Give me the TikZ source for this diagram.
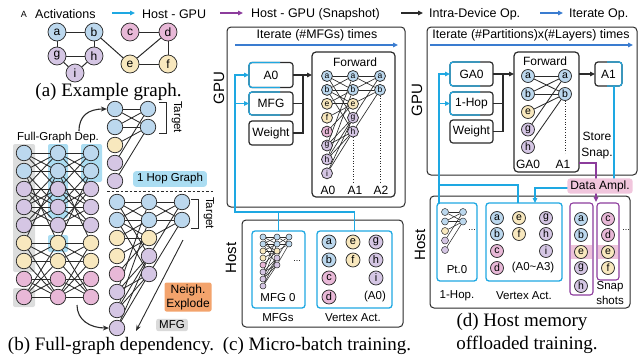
\documentclass[tikz,border=0pt]{standalone}
\usepackage{fontspec}
\setmainfont{Liberation Sans}
\newfontfamily\capfont{Liberation Serif}
\usetikzlibrary{arrows.meta,calc}
\definecolor{cblue}{HTML}{BCD8EE}
\definecolor{cpurp}{HTML}{D5C6E4}
\definecolor{cyel}{HTML}{F8E8BE}
\definecolor{cpink}{HTML}{E8B8D7}
\definecolor{hgc}{HTML}{1EA8E2}
\definecolor{itc}{HTML}{3A7CD0}
\definecolor{snc}{HTML}{8C3C9C}
\definecolor{dkc}{HTML}{2A2A2A}
\definecolor{grayhl}{HTML}{DCDDDD}
\definecolor{cyanhl}{HTML}{ABDDF2}
\definecolor{orangec}{HTML}{F3A36C}
\definecolor{mfggray}{HTML}{DADADA}
\definecolor{amplc}{HTML}{F1C6DD}
\definecolor{snaphl}{HTML}{EDC3DA}
\pgfdeclarelayer{hl}
\pgfdeclarelayer{edges}
\pgfsetlayers{hl,edges,main}
\newcommand\fsz[2]{\fontsize{#1}{#2}\selectfont}
\tikzset{
  vn/.style={circle,draw=dkc,line width=0.75pt,inner sep=0pt,minimum size=#1},
  vn/.default=15.5pt,
  clr a/.style={fill=cblue}, clr b/.style={fill=cblue},
  clr c/.style={fill=cpink}, clr d/.style={fill=cpink},
  clr e/.style={fill=cyel}, clr f/.style={fill=cyel},
  clr g/.style={fill=cpurp}, clr h/.style={fill=cpurp}, clr i/.style={fill=cpurp},
  eg/.style={draw=dkc,line width=0.85pt},
  pbox/.style={draw=dkc,line width=1pt,rounded corners=4pt},
  iobox/.style={draw=dkc,line width=1.2pt,rounded corners=3pt,outer sep=0pt,inner sep=0pt,minimum width=44pt,font=\fsz{12}{14}},
  hg/.style={draw=hgc,line width=1.4pt},
  dk/.style={draw=dkc,line width=1.2pt},
  arr/.style={-{Triangle[length=5pt,width=4.5pt]}},
  lbl/.style={font=\fsz{12}{14},inner sep=0pt},
  leg/.style={font=\fsz{12.5}{14},inner sep=0pt,anchor=west},
  capt/.style={font=\capfont\fsz{19}{22},inner sep=0pt},
  sidelbl/.style={font=\fsz{15}{16},inner sep=0pt,rotate=90},
  tgt/.style={font=\fsz{11.5}{13},inner sep=0pt,rotate=-90},
  dotl/.style={draw=dkc,line width=0.8pt,dash pattern=on 1pt off 1.6pt},
}
\newcommand\cyanleft[1]{%
  \begin{scope}\clip ($(#1.south west)+(-2,2)$) rectangle ($(#1.north east)+(-13,-2)$);
  \draw[hg,line width=1.2pt,rounded corners=3pt] (#1.south west) rectangle (#1.north east);\end{scope}}
\newcommand\cyanright[1]{%
  \begin{scope}\clip ($(#1.south west)+(12,2)$) rectangle ($(#1.north east)+(2,-2)$);
  \draw[hg,line width=1.2pt,rounded corners=3pt] (#1.south west) rectangle (#1.north east);\end{scope}}
\begin{document}
\begin{tikzpicture}[x=1pt,y=-1pt]
\useasboundingbox (0,0) rectangle (644,357);
% ================= legend =================
\node[lbl,font=\fsz{9}{10}] (lgA) at (24,14) {A};
\node[leg] (lgAct) at (35,14) {Activations};
\coordinate (lc1) at (112,13); \coordinate (lc2) at (135,13);
\draw[hg,arr] (lc1) -- (lc2);
\node[leg] (lgHG) at (142,14) {Host - GPU};
\coordinate (lp1) at (220,13); \coordinate (lp2) at (243,13);
\draw[draw=snc,line width=1.4pt,arr] (lp1) -- (lp2);
\node[leg] (lgHS) at (251,14) {Host - GPU (Snapshot)};
\coordinate (lk1) at (401,13); \coordinate (lk2) at (423,13);
\draw[dk,arr] (lk1) -- (lk2);
\node[leg] (lgID) at (429,14) {Intra-Device Op.};
\coordinate (lb1) at (540,13); \coordinate (lb2) at (563,13);
\draw[draw=itc,line width=1.4pt,arr] (lb1) -- (lb2);
\node[leg] (lgIt) at (569,14) {Iterate Op.};
% ================= (a) =================
\foreach \n/\x/\y in {a/57/32,b/94/32,g/57/56,h/94/56,i/75/73,c/130/32,d/168/32,e/130/64,f/168/64}
  \node[vn=18pt,clr \n,font=\fsz{12}{12}] (pa-\n) at (\x,\y) {\n};
\begin{pgfonlayer}{edges}
\foreach \u/\v in {a/b,a/g,b/h,g/h,g/i,h/i,b/e,c/d,e/d,e/f,d/f}
  \draw[eg,line width=1pt] (pa-\u) -- (pa-\v);
\end{pgfonlayer}
\node[capt] (capa) at (108.5,92) {(a) Example graph.};
% ================= (b) left network =================
\foreach \c/\x in {1/24,2/58,3/91}
  \foreach \r/\l in {1/a,2/b,3/g,4/h,5/i,6/e,7/f,8/c,9/d}
    \node[vn,clr \l] (L\c-\r) at (\x,{153+18*(\r-1)}) {};
\begin{pgfonlayer}{edges}
\foreach \p/\q in {1/2,2/3}
  \foreach \i/\j in {1/1,2/2,3/3,4/4,5/5,6/6,7/7,8/8,9/9,1/2,2/1,1/3,3/1,2/4,4/2,2/6,6/2,3/4,4/3,3/5,5/3,4/5,5/4,6/7,7/6,6/9,9/6,7/9,9/7,8/9,9/8}
    \draw[eg] (L\p-\i) -- (L\q-\j);
\end{pgfonlayer}
\begin{pgfonlayer}{hl}
\fill[grayhl,rounded corners=2pt] (13,144) rectangle (35,272);
\fill[grayhl,rounded corners=2pt] (13,288) rectangle (35,307);
\fill[cyanhl,rounded corners=2pt] (48,144) rectangle (68,218);
\fill[cyanhl,rounded corners=2pt] (48,235) rectangle (68,252);
\fill[cyanhl,rounded corners=2pt] (81,144) rectangle (102,182);
\end{pgfonlayer}
\node[lbl,font=\fsz{11.5}{13}] (fgd) at (58,138) {Full-Graph Dep.};
% ================= (b) top 1-hop graph =================
\foreach \r/\l/\y in {1/a/109,2/b/127,3/e/145,4/g/163,5/h/181}
  \node[vn,clr \l] (T1-\r) at (115,\y) {};
\foreach \r/\l/\y in {1/a/109,2/b/127}
  \node[vn,clr \l] (T2-\r) at (148,\y) {};
\begin{pgfonlayer}{edges}
\foreach \i/\j in {1/1,2/1,4/1,1/2,2/2,3/2,5/2}
  \draw[eg] (T1-\i) -- (T2-\j);
\end{pgfonlayer}
\draw[dkc,line width=0.9pt] (159,102) -- (166,102) -- (166,133) -- (159,133);
\node[tgt] (tgt1) at (177,117) {Target};
\node[lbl,font=\fsz{11.5}{13},fill=cyanhl,rounded corners=3pt,inner xsep=4pt,inner ysep=2.5pt] (ohg) at (170,179) {1 Hop Graph};
\coordinate (ds1) at (107,191); \coordinate (ds2) at (213,191);
\draw[dkc,line width=0.9pt,dash pattern=on 2.5pt off 2pt] (ds1) -- (ds2);
% ================= (b) bottom MFG =================
\foreach \r/\l in {1/a,2/b,3/e,4/f,5/d,6/g,7/h,8/i}
  \node[vn,clr \l] (B1-\r) at (117,{202+18*(\r-1)}) {};
\foreach \r/\l in {1/a,2/b,3/e,4/g,5/h}
  \node[vn,clr \l] (B2-\r) at (149,{202+18*(\r-1)}) {};
\foreach \r/\l in {1/a,2/b}
  \node[vn,clr \l] (B3-\r) at (182,{202+18*(\r-1)}) {};
\begin{pgfonlayer}{edges}
\foreach \i/\j in {1/1,2/1,6/1,1/2,2/2,3/2,7/2,2/3,3/3,4/3,5/3,1/4,6/4,7/4,8/4,2/5,6/5,7/5,8/5}
  \draw[eg] (B1-\i) -- (B2-\j);
\foreach \i/\j in {1/1,2/1,4/1,1/2,2/2,3/2,5/2}
  \draw[eg] (B2-\i) -- (B3-\j);
\end{pgfonlayer}
\draw[dkc,line width=0.9pt] (191,199) -- (198,199) -- (198,228) -- (191,228);
\node[tgt] (tgt2) at (209,213) {Target};
% curved arrows
\coordinate (cu0) at (79,131);
\draw[dkc,line width=1.1pt,-{Stealth[length=6pt,width=5pt]}] (cu0) .. controls (79,116) and (88,109) .. (T1-1.west);
\coordinate (cd0) at (77,305);
\draw[dkc,line width=1.1pt,-{Stealth[length=6pt,width=5pt]}] (cd0) .. controls (77,320) and (90,328) .. (B1-8.west);
\coordinate (ex1) at (183,240); \coordinate (ex2) at (136,331);
\draw[dkc,line width=0.9pt,-{Stealth[length=6pt,width=4.5pt]}] (ex1) -- (ex2);
\node[lbl,font=\fsz{12}{14},fill=orangec,rounded corners=2pt,align=center,minimum width=47pt,minimum height=29pt] (nex) at (188,297) {Neigh.\\Explode};
\node[lbl,font=\fsz{11.5}{13},fill=mfggray,rounded corners=2pt,inner xsep=3pt,inner ysep=2pt] (mfgl) at (172,325) {MFG};
\node[capt] (capb) at (111,346) {(b) Full-graph dependency.};
% ================= (c) GPU =================
\draw[pbox] (227,27) rectangle (405,207);
\node[sidelbl] (gpuc) at (219,88) {GPU};
\node[lbl,font=\fsz{12.4}{14}] (itc1) at (317,35) {Iterate (\#MFGs) times};
\coordinate (it1) at (235,45); \coordinate (it2) at (398,45);
\draw[draw=itc,line width=1.4pt,arr] (it1) -- (it2);
\node[iobox,minimum height=25pt] (A0c) at (271,75) {A0};
\node[iobox,minimum height=23pt] (MFGc) at (271,103.5) {MFG};
\node[iobox,minimum height=24pt] (Wc) at (271,133) {Weight};
\cyanleft{A0c}
\cyanleft{MFGc}
\node[draw=dkc,line width=1.2pt,rounded corners=4pt,minimum width=83pt,minimum height=145pt,inner sep=0pt,outer sep=0pt] (FwC) at (353.5,124.5) {};
\node[lbl] (fwct) at (355,62) {Forward};
\coordinate (cm) at (303,75);
\draw[dk] (A0c.east) -- (cm);
\draw[dk] (MFGc.east) -- (MFGc.east -| cm);
\draw[dk] (Wc.east) -- (Wc.east -| cm) -- (cm);
\draw[dk,arr] (cm) -- (FwC.west |- cm);
\foreach \r/\l in {1/a,2/b,3/e,4/f,5/d,6/g,7/h,8/i}
  \node[vn=11pt,clr \l,font=\fsz{8.5}{9}] (F1-\r) at (327,{76+13.9*(\r-1)}) {\l};
\foreach \r/\l in {1/a,2/b,3/e,4/g,5/h}
  \node[vn=11pt,clr \l,font=\fsz{8.5}{9}] (F2-\r) at (353,{76+13.9*(\r-1)}) {\l};
\foreach \r/\l in {1/a,2/b}
  \node[vn=11pt,clr \l,font=\fsz{8.5}{9}] (F3-\r) at (380,{76+13.9*(\r-1)}) {\l};
\begin{pgfonlayer}{edges}
\foreach \i/\j in {1/1,2/1,6/1,1/2,2/2,3/2,7/2,2/3,3/3,4/3,5/3,1/4,6/4,7/4,8/4,2/5,6/5,7/5,8/5}
  \draw[eg,line width=0.65pt] (F1-\i) -- (F2-\j);
\foreach \i/\j in {1/1,2/1,4/1,1/2,2/2,3/2,5/2}
  \draw[eg,line width=0.65pt] (F2-\i) -- (F3-\j);
\end{pgfonlayer}
\draw[dotl] (F2-5.south) -- ++(0,45);
\draw[dotl] (F3-2.south) -- ++(0,87);
\node[lbl] (a0l) at (328,190) {A0};
\node[lbl] (a1l) at (355,190) {A1};
\node[lbl] (a2l) at (381,190) {A2};
% ================= (c) Host =================
\draw[pbox] (242,220) rectangle (403,327);
\node[sidelbl] (hostc) at (231,258) {Host};
\node[draw=hgc,line width=1.3pt,rounded corners=3pt,minimum width=53pt,minimum height=77pt,inner sep=0pt,outer sep=0pt] (HMc) at (278.5,269.5) {};
\node[draw=hgc,line width=1.3pt,rounded corners=3pt,minimum width=75pt,minimum height=77pt,inner sep=0pt,outer sep=0pt] (VAc) at (354.5,269.5) {};
\foreach \r/\l in {1/a,2/b,3/e,4/f,5/d,6/g,7/h,8/i}
  \node[vn=6pt,line width=0.5pt,clr \l] (M1-\r) at (263,{237+7*(\r-1)}) {};
\foreach \r/\l in {1/a,2/b,3/e,4/g,5/h}
  \node[vn=6pt,line width=0.5pt,clr \l] (M2-\r) at (277,{237+7*(\r-1)}) {};
\foreach \r/\l in {1/a,2/b}
  \node[vn=6pt,line width=0.5pt,clr \l] (M3-\r) at (289,{237+7*(\r-1)}) {};
\begin{pgfonlayer}{edges}
\foreach \i/\j in {1/1,2/1,6/1,1/2,2/2,3/2,7/2,2/3,3/3,4/3,5/3,1/4,6/4,7/4,8/4,2/5,6/5,7/5,8/5}
  \draw[eg,line width=0.5pt] (M1-\i) -- (M2-\j);
\foreach \i/\j in {1/1,2/1,4/1,1/2,2/2,3/2,5/2}
  \draw[eg,line width=0.5pt] (M2-\i) -- (M3-\j);
\end{pgfonlayer}
\node[lbl,font=\fsz{9}{9}] (dotsc) at (297,261) {...};
\node[lbl,font=\fsz{11.5}{13}] (mfg0) at (278,298) {MFG 0};
\foreach \l/\x/\y in {a/329/242,b/329/260,c/329/278,d/329/297,e/353/242,f/353/260,g/376/242,h/376/260,i/376/278}
  \node[vn=14pt,clr \l,font=\fsz{11}{11}] (VC-\l) at (\x,\y) {\l};
\node[lbl,font=\fsz{11.5}{13}] (a0p) at (375,297) {(A0)};
\node[lbl,font=\fsz{11.5}{13}] (mfgsl) at (278,318) {MFGs};
\node[lbl,font=\fsz{11.5}{13}] (vacl) at (353,318) {Vertex Act.};
\coordinate (cjx) at (235,212);
\draw[hg,arr] (VAc.north) |- (cjx) |- (A0c.west);
\draw[hg,arr] (MFGc.west -| cjx) -- (MFGc.west);
\draw[hg] (HMc.north) -- (HMc.north |- cjx);
\node[capt] (capc) at (317,346) {(c) Micro-batch training.};
% ================= (d) GPU =================
\draw[pbox] (427,27) rectangle (637,175);
\node[sidelbl] (gpud) at (417,100) {GPU};
\node[lbl,font=\fsz{12.4}{14}] (itd1) at (531,35) {Iterate (\#Partitions)x(\#Layers) times};
\coordinate (id1) at (430,45); \coordinate (id2) at (633,45);
\draw[draw=itc,line width=1.4pt,arr] (id1) -- (id2);
\node[iobox,minimum width=43pt,minimum height=24pt] (GA0) at (471.5,74) {GA0};
\node[iobox,minimum width=43pt,minimum height=23pt] (Hop) at (471.5,103.5) {1-Hop};
\node[iobox,minimum width=43pt,minimum height=23pt] (Wd) at (471.5,131.5) {Weight};
\cyanleft{GA0}
\cyanleft{Hop}
\node[draw=dkc,line width=1.2pt,rounded corners=4pt,minimum width=65pt,minimum height=120pt,inner sep=0pt,outer sep=0pt] (FwD) at (546.5,112) {};
\node[lbl] (fwdt) at (545,61) {Forward};
\coordinate (dm) at (503,74);
\draw[dk] (GA0.east) -- (dm);
\draw[dk] (Hop.east) -- (Hop.east -| dm);
\draw[dk] (Wd.east) -- (Wd.east -| dm) -- (dm);
\draw[dk,arr] (dm) -- (FwD.west |- dm);
\foreach \r/\l/\y in {1/a/76,2/b/94,3/e/112,4/g/129.5,5/h/147}
  \node[vn=13pt,clr \l,font=\fsz{10.5}{11}] (G1-\r) at (528,\y) {\l};
\foreach \r/\l/\y in {1/a/76,2/b/94}
  \node[vn=13pt,clr \l,font=\fsz{10.5}{11}] (G2-\r) at (565,\y) {\l};
\begin{pgfonlayer}{edges}
\foreach \i/\j in {1/1,2/1,4/1,1/2,2/2,3/2,5/2}
  \draw[eg] (G1-\i) -- (G2-\j);
\end{pgfonlayer}
\draw[dotl] (G2-2.south) -- ++(0,52);
\node[lbl] (ga0l) at (528,164) {GA0};
\node[lbl] (a1dl) at (563,164) {A1};
\node[iobox,minimum width=27pt,minimum height=24pt] (A1d) at (608.5,74) {A1};
\cyanright{A1d}
\draw[dk,arr] (FwD.east |- A1d.west) -- (A1d.west);
\node[lbl,align=center,font=\fsz{12}{16}] (ssn) at (597,146) {Store\\Snap.};
% ================= (d) Host =================
\draw[pbox] (430,196) rectangle (630,308);
\node[sidelbl] (hostd) at (420,245) {Host};
\node[draw=hgc,line width=1.3pt,rounded corners=3pt,minimum width=40pt,minimum height=78pt,inner sep=0pt,outer sep=0pt] (Pt0) at (457,242) {};
\node[draw=hgc,line width=1.3pt,rounded corners=3pt,minimum width=76pt,minimum height=78pt,inner sep=0pt,outer sep=0pt] (VAd) at (524,242) {};
\node[draw=snc,line width=1.1pt,rounded corners=3pt,minimum width=23pt,minimum height=92pt,inner sep=0pt,outer sep=0pt] (S1) at (581.5,249) {};
\node[draw=snc,line width=1.1pt,rounded corners=3pt,minimum width=22pt,minimum height=77pt,inner sep=0pt,outer sep=0pt] (S2) at (608,241.5) {};
\begin{pgfonlayer}{hl}
\fill[snaphl] (571,245) rectangle (592,259);
\fill[snaphl] (598,245) rectangle (618,259);
\end{pgfonlayer}
\foreach \r/\l/\y in {1/a/212,2/b/221.5,3/e/231,4/g/240.5,5/h/250}
  \node[vn=7pt,line width=0.5pt,clr \l] (P1-\r) at (445,\y) {};
\foreach \r/\l/\y in {1/a/212,2/b/221.5}
  \node[vn=7pt,line width=0.5pt,clr \l] (P2-\r) at (463,\y) {};
\begin{pgfonlayer}{edges}
\foreach \i/\j in {1/1,2/1,4/1,1/2,2/2,3/2,5/2}
  \draw[eg,line width=0.55pt] (P1-\i) -- (P2-\j);
\end{pgfonlayer}
\node[lbl,font=\fsz{9}{9}] (dotsd) at (472,230) {...};
\node[lbl,font=\fsz{11.5}{13}] (pt0l) at (457,270) {Pt.0};
\foreach \l/\x/\y in {a/497/218,b/497/234,c/497/251,d/497/268,e/519/218,f/519/234,g/546/218,h/546/234,i/546/251}
  \node[vn=13pt,clr \l,font=\fsz{10.5}{11}] (VD-\l) at (\x,\y) {\l};
\node[lbl,font=\fsz{11.5}{13}] (a03) at (533,268) {(A0\textasciitilde A3)};
\foreach \l/\y in {a/219,b/235,e/252,g/268,h/286}
  \node[vn=13pt,clr \l,font=\fsz{10.5}{11}] (SA-\l) at (581,\y) {\l};
\foreach \l/\y in {c/219,d/235,e/252,f/268}
  \node[vn=13pt,clr \l,font=\fsz{10.5}{11}] (SB-\l) at (608,\y) {\l};
\node[lbl,font=\fsz{9}{9}] (dotss) at (626,230) {...};
\node[lbl,align=center,font=\fsz{11.5}{15}] (snapl) at (610,293.5) {Snap\\shots};
\node[lbl,font=\fsz{11.5}{13}] (hopl) at (457,296) {1-Hop.};
\node[lbl,font=\fsz{11.5}{13}] (vadl) at (524,296) {Vertex Act.};
% connectors (d)
\coordinate (dx) at (439,185);
\coordinate (dv) at (518,185);
\draw[hg,arr] (dx |- Pt0.north) |- (GA0.west);
\draw[hg,arr] (dx |- Hop.west) -- (Hop.west);
\draw[hg] (dx) -- (dv) -- (dv |- VAd.north);
\coordinate (a1b) at (614,86);
\coordinate (dj) at (535,188);
\draw[hg,arr] (a1b) |- (dj) -- (dj |- VAd.north);
\coordinate (ps) at (579,163);
\coordinate (pe) at (596,202);
\draw[draw=snc,line width=1.3pt,arr] (ps) -| (pe);
\node[lbl,font=\fsz{12}{14},fill=amplc,rounded corners=3pt,inner xsep=3pt,inner ysep=2pt] (ampl) at (600,186) {Data Ampl.};
\node[capt] (capd1) at (522,322) {(d) Host memory};
\node[capt] (capd2) at (527,345) {offloaded training.};
\end{tikzpicture}
\end{document}
